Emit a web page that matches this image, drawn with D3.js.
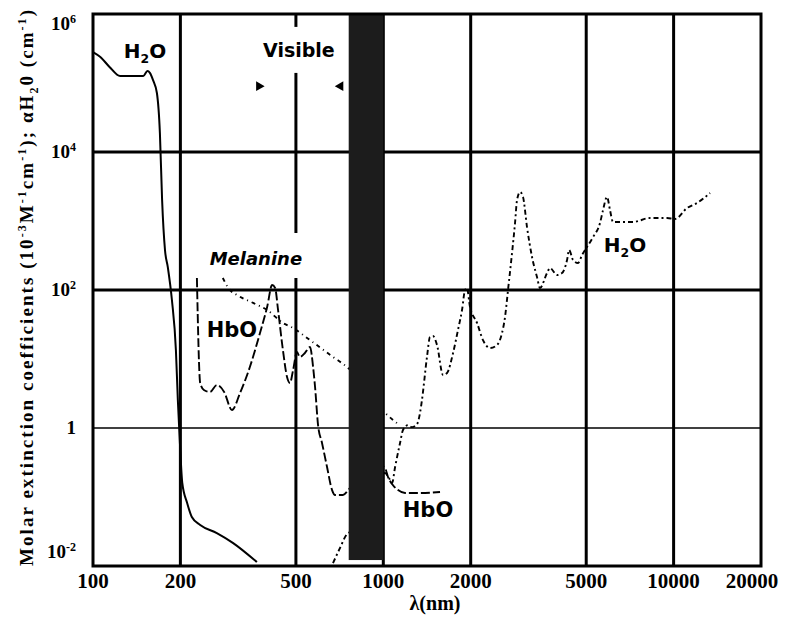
<!DOCTYPE html>
<html>
<head>
<meta charset="utf-8">
<script src="https://cdn.jsdelivr.net/npm/d3@7"></script>
<style>
body { margin: 0; background: #fff; }
</style>
</head>
<body>
<div class="chart"></div>
<script>
// axis ticks
const xTicks = [100, 200, 500, 1000, 2000, 5000, 10000, 20000];
const yTicks = [0.01, 1, 100, 1e4, 1e6];
const yTickExp = ['-2', null, '2', '4', '6'];

// water, UV side (solid line)
const h2oUvWl = [100, 106, 114, 124, 149, 154, 157, 161, 166, 170, 173, 177, 181, 187, 193, 196, 199, 203, 211, 219, 234, 267, 304, 367];
const h2oUvAbs = [2.81e5, 2.38e5, 1.71e5, 1.26e5, 1.26e5, 1.49e5, 1.40e5, 1.10e5, 7.16e4, 1.88e4, 2014, 380, 215, 71.6, 13.5, 2.55, 0.67, 0.16, 0.082, 0.0513, 0.0393, 0.030, 0.0215, 0.0114];

// oxy-haemoglobin (long dashes)
const hboWl = [228, 234, 241, 253, 267, 283, 301, 321, 347, 376, 398, 414, 424, 434, 451, 466, 477, 489, 504, 516, 537, 559, 573, 582, 596, 615, 640, 666, 682, 726, 768, 851, 974, 1014, 1038, 1072, 1124, 1188, 1338, 1568];
const hboEps = [149, 4.49, 3.56, 3.33, 4.2, 3.33, 1.82, 3.21, 7.65, 23.8, 56.8, 118, 107, 51.3, 13.5, 5.48, 4.49, 6.93, 12.6, 10.7, 12.2, 14.9, 7.65, 3.93, 1.10, 0.607, 0.272, 0.126, 0.107, 0.107, 0.135, 0.195, 0.291, 0.263, 0.195, 0.154, 0.126, 0.114, 0.114, 0.118];

// melanine (dash-dot)
const melWl = [280, 296, 313, 356, 398, 451, 489, 559, 671, 750, 998, 1124];
const melEps = [149, 100, 84.7, 64.9, 51.3, 33.3, 28.1, 18.8, 10.7, 7.65, 1.76, 1.14];

// water, IR side (dashed)
const h2oIrWl = [671, 709, 750, 780, 865, 974, 1014, 1046, 1072, 1098, 1142, 1169, 1216, 1256, 1307, 1338, 1359, 1414, 1448, 1483, 1531, 1606, 1658, 1739, 1808, 1867, 1912, 1942, 1989, 2103, 2205, 2331, 2465, 2564, 2626, 2689, 2776, 2843, 2888, 2958, 3029, 3126, 3253, 3384, 3466, 3664, 3752, 3966, 4127, 4295, 4364, 4504, 4686, 4837, 5031, 5278, 5579, 5713, 5897, 6038, 6183, 7246, 8292, 9490, 10111, 11122, 12038, 13350];
const h2oIrAbs = [0.011, 0.0182, 0.0291, 0.0321, 0.0766, 0.188, 0.223, 0.188, 0.16, 0.272, 0.607, 0.935, 1.10, 1.03, 1.14, 1.65, 2.55, 10.7, 20.8, 21.5, 16.0, 5.86, 6.27, 12.2, 26.3, 51.3, 100, 107, 56.8, 33.3, 18.8, 14.4, 16.0, 23.8, 40.6, 100, 343, 935, 2014, 2630, 2228, 818, 301, 154, 107, 176, 208, 165, 176, 272, 380, 272, 246, 321, 420, 586, 935, 1442, 2228, 1442, 968, 968, 1104, 1104, 1069, 1542, 1824, 2547];

// dark band (wavelength range) and the visible range arrows
const bandWl = [760, 1000];
const visibleWl = [373, 712];
// where the 500 nm gridline is broken by labels
const gaps500 = [[149, 670], [1.4e5, 6.5e5]];

const width = 788;
const height = 620;
const serif = "'Liberation Serif', 'Times New Roman', serif";
const sans = "'DejaVu Sans', Verdana, sans-serif";

const svg = d3.select('.chart')
    .append('svg')
    .attr('width', width)
    .attr('height', height);

const x = d3.scaleLog().domain([100, 20000]).range([93, 761]);
const y = d3.scaleLog().domain([0.01, 1e6]).range([566, 14]);

svg.append('clipPath').attr('id', 'plot')
    .append('rect')
    .attr('x', x(100)).attr('y', y(1e6))
    .attr('width', x(20000) - x(100))
    .attr('height', y(0.01) - y(1e6));

//horizontal gridlines
svg.selectAll('line.hgrid')
    .data([1, 100, 1e4])
    .enter()
    .append('line')
    .attr('x1', x(100)).attr('x2', x(20000))
    .attr('y1', d => y(d)).attr('y2', d => y(d))
    .attr('stroke', '#000')
    .attr('stroke-width', d => d === 1 ? 1.5 : 3);

//vertical gridlines, split where labels sit
const vSegs = [];
xTicks.slice(1, -1).forEach(t => {
    let from = 0.01;
    if (t === 500) {
        gaps500.forEach(g => {
            vSegs.push({ t, a: from, b: g[0] });
            from = g[1];
        });
    }
    vSegs.push({ t, a: from, b: 1e6 });
});
svg.selectAll('line.vgrid')
    .data(vSegs)
    .enter()
    .append('line')
    .attr('x1', d => x(d.t)).attr('x2', d => x(d.t))
    .attr('y1', d => y(d.a)).attr('y2', d => y(d.b))
    .attr('stroke', '#000')
    .attr('stroke-width', 3);

//curves
const line = d3.line()
    .x(d => x(d[0]))
    .y(d => y(d[1]))
    .curve(d3.curveMonotoneX);

const series = [
    { wl: h2oUvWl, v: h2oUvAbs, dash: null, w: 2 },
    { wl: hboWl, v: hboEps, dash: '9,3', w: 1.9 },
    { wl: melWl, v: melEps, dash: '4,4,1,4', w: 1.9 },
    { wl: h2oIrWl, v: h2oIrAbs, dash: '5,3,2,3', w: 1.9 }
];
svg.append('g')
    .attr('clip-path', 'url(#plot)')
    .selectAll('path')
    .data(series)
    .enter()
    .append('path')
    .attr('d', s => line(s.wl.map((w, i) => [w, s.v[i]])))
    .attr('fill', 'none')
    .attr('stroke', '#000')
    .attr('stroke-width', s => s.w)
    .attr('stroke-dasharray', s => s.dash);

//dark band
svg.append('rect')
    .attr('x', x(bandWl[0]))
    .attr('y', y(1e6))
    .attr('width', x(bandWl[1]) - x(bandWl[0]))
    .attr('height', y(0.0122) - y(1e6))
    .attr('fill', '#1c1c1c');

//frame
svg.append('rect')
    .attr('x', x(100)).attr('y', y(1e6))
    .attr('width', x(20000) - x(100))
    .attr('height', y(0.01) - y(1e6))
    .attr('fill', 'none')
    .attr('stroke', '#000')
    .attr('stroke-width', 3);

//visible arrows
svg.selectAll('path.arrow')
    .data(visibleWl)
    .enter()
    .append('path')
    .attr('d', d3.symbol().type(d3.symbolTriangle).size(42))
    .attr('transform', (d, i) => `translate(${x(d)},${y(9e4)}) rotate(${i === 0 ? 90 : -90})`)
    .attr('fill', '#000');

//x tick labels
svg.selectAll('text.xtick')
    .data(xTicks)
    .enter()
    .append('text')
    .text(d => d)
    .attr('x', d => x(d))
    .attr('dx', d => d === 20000 ? -9 : 0)
    .attr('y', 588)
    .attr('text-anchor', 'middle')
    .attr('font-family', serif)
    .attr('font-weight', 'bold')
    .attr('font-size', 21);

//y tick labels
const yt = svg.selectAll('text.ytick')
    .data(yTicks)
    .enter()
    .append('text')
    .attr('x', 76)
    .attr('y', (d, i) => y(d) + (i === 0 ? -8 : i === yTicks.length - 1 ? 16 : 6))
    .attr('text-anchor', 'end')
    .attr('font-family', serif)
    .attr('font-weight', 'bold')
    .attr('font-size', 19);
yt.append('tspan').text((d, i) => yTickExp[i] === null ? '1' : '10');
yt.filter((d, i) => yTickExp[i] !== null)
    .append('tspan')
    .text((d) => yTickExp[yTicks.indexOf(d)])
    .attr('dy', -7)
    .attr('font-size', 12);

//curve labels
function label(txt, wl, v, opts) {
    const t = svg.append('text')
        .attr('x', x(wl)).attr('y', y(v))
        .attr('text-anchor', 'middle')
        .attr('font-family', sans)
        .attr('font-weight', 'bold')
        .attr('font-size', opts.size)
        .attr('font-style', opts.italic ? 'italic' : null);
    if (opts.sub) {
        t.append('tspan').text(txt[0]);
        t.append('tspan').text(txt[1]).attr('dy', 5).attr('font-size', opts.size * 0.62);
        t.append('tspan').text(txt[2]).attr('dy', -5);
    } else {
        t.text(txt);
    }
}
label(['H', '2', 'O'], 151, 2.3e5, { size: 20, sub: true });
label('Visible', 512, 2.4e5, { size: 19 });
label('Melanine', 364, 230, { size: 18, italic: true });
label('HbO', 301, 20.8, { size: 21 });
label('HbO', 1426, 0.051, { size: 21 });
label(['H', '2', 'O'], 6800, 356, { size: 20, sub: true });

//axis titles
svg.append('text')
    .text('λ(nm)')
    .attr('x', 435).attr('y', 610)
    .attr('text-anchor', 'middle')
    .attr('font-family', serif)
    .attr('font-weight', 'bold')
    .attr('font-size', 20);

const yTitleParts = [
    ['Molar extinction coefficients (10', 0], ['-3', 1], ['M', 0], ['-1', 1], ['cm', 0], ['-1', 1],
    ['); αH', 0], ['2', -1], ['0 (cm', 0], ['-1', 1], [')', 0]
];
const yTitle = svg.append('text')
    .attr('transform', 'translate(33,288) rotate(-90)')
    .attr('text-anchor', 'middle')
    .attr('font-family', serif)
    .attr('font-weight', 'bold')
    .attr('font-size', 19)
    .attr('textLength', 556)
    .attr('lengthAdjust', 'spacing');
let shift = 0;
yTitleParts.forEach(p => {
    const target = p[1] === 1 ? -7 : p[1] === -1 ? 5 : 0;
    yTitle.append('tspan')
        .text(p[0])
        .attr('dy', target - shift)
        .attr('font-size', p[1] === 0 ? 19 : 12);
    shift = target;
});
</script>
</body>
</html>
